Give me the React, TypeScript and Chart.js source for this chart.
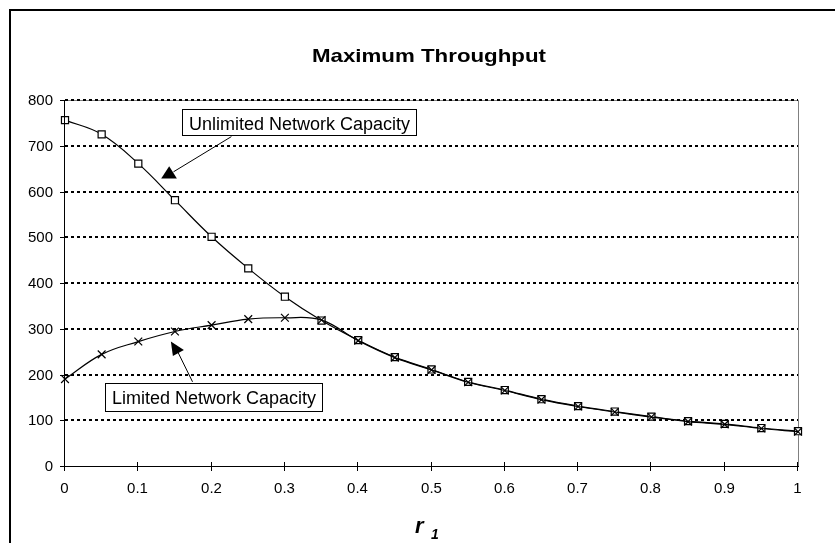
import { useEffect, useRef } from "react";
import { Chart, registerables } from "chart.js";

Chart.register(...registerables);

// ---- data ----
const rValues = [0, 0.05, 0.1, 0.15, 0.2, 0.25, 0.3, 0.35, 0.4, 0.45, 0.5, 0.55, 0.6, 0.65, 0.7, 0.75, 0.8, 0.85, 0.9, 0.95, 1];
const unlimitedThroughput = [756, 725, 661, 581, 501, 432, 370, 318, 275, 238, 211, 184, 166, 146, 131, 119, 108, 98, 92, 83, 76];
const limitedThroughput = [190, 244, 272, 294, 308, 321, 324, 319, 274, 237, 210, 183, 165, 145, 130, 118, 107, 97, 91, 82, 75];
const yTickValues = [0, 100, 200, 300, 400, 500, 600, 700, 800];
const yTickLabels = ["0", "100", "200", "300", "400", "500", "600", "700", "800"];
const xTickValues = [0, 0.1, 0.2, 0.3, 0.4, 0.5, 0.6, 0.7, 0.8, 0.9, 1];
const xTickLabels = ["0", "0.1", "0.2", "0.3", "0.4", "0.5", "0.6", "0.7", "0.8", "0.9", "1"];
const titleText = "Maximum Throughput";
const xAxisTitle = "r";
const xAxisSubscript = "1";
const unlimitedLabel = "Unlimited Network Capacity";
const limitedLabel = "Limited Network Capacity";

// ---- annotation placement (in data units) ----
const annotations = [
  {
    text: unlimitedLabel,
    boxLeft: 0.159, boxTop: 780, boxHeight: 26,
    arrowFrom: { r: 0.227, v: 720 },
    arrowTo: { r: 0.148, v: 643 },
    head: [[-4.3, -5.7], [-12.3, 6.6], [3.4, 6.6]],
  },
  {
    text: limitedLabel,
    boxLeft: 0.0546, boxTop: 182, boxHeight: 28,
    arrowFrom: { r: 0.174, v: 184 },
    arrowTo: { r: 0.154, v: 249 },
    head: [[-7, -10.5], [-5, 4], [6, -2]],
  },
];

const FONT = '"Liberation Sans", Arial, Helvetica, sans-serif';

const decorPlugin = {
  id: "decor",
  beforeDraw(chart: any) {
    const { ctx, chartArea: a, scales } = chart;
    const y = scales.y;
    ctx.save();
    ctx.fillStyle = "#ffffff";
    ctx.fillRect(0, 0, chart.width, chart.height);
    // outer frame
    ctx.strokeStyle = "#000";
    ctx.lineWidth = 2;
    ctx.strokeRect(10, 10, chart.width + 20, chart.height + 20);
    // plot area border (top/right), grey
    ctx.strokeStyle = "#808080";
    ctx.lineWidth = 1;
    ctx.beginPath();
    ctx.moveTo(a.left, a.top + 0.5);
    ctx.lineTo(a.right + 0.5, a.top + 0.5);
    ctx.lineTo(a.right + 0.5, a.bottom);
    ctx.stroke();
    // dotted grid
    ctx.strokeStyle = "#000";
    ctx.lineWidth = 2;
    ctx.setLineDash([3, 3]);
    for (const t of yTickValues) {
      if (t === 0) continue;
      const py = Math.round(y.getPixelForValue(t));
      ctx.beginPath();
      ctx.moveTo(a.left, py);
      ctx.lineTo(a.right, py);
      ctx.stroke();
    }
    ctx.restore();
  },
  afterDatasetsDraw(chart: any) {
    const { ctx, chartArea: a, scales } = chart;
    const x = scales.x;
    const y = scales.y;
    ctx.save();
    ctx.strokeStyle = "#000";
    ctx.fillStyle = "#000";
    ctx.lineWidth = 1;
    ctx.setLineDash([]);
    // axes
    ctx.beginPath();
    ctx.moveTo(a.left - 0.5, a.top);
    ctx.lineTo(a.left - 0.5, a.bottom + 0.5);
    ctx.lineTo(a.right + 1, a.bottom + 0.5);
    ctx.stroke();
    // y ticks + labels
    ctx.font = `15px ${FONT}`;
    ctx.textAlign = "right";
    ctx.textBaseline = "middle";
    yTickValues.forEach((t, i) => {
      const py = Math.round(y.getPixelForValue(t)) + 0.5;
      ctx.beginPath();
      ctx.moveTo(a.left - 5, py);
      ctx.lineTo(a.left, py);
      ctx.stroke();
      ctx.fillText(yTickLabels[i], a.left - 12, py);
    });
    // x ticks + labels
    ctx.textAlign = "center";
    xTickValues.forEach((t, i) => {
      const px = Math.round(x.getPixelForValue(t)) - 0.5;
      ctx.beginPath();
      ctx.moveTo(px, a.bottom - 4);
      ctx.lineTo(px, a.bottom + 5);
      ctx.stroke();
      ctx.fillText(xTickLabels[i], px, a.bottom + 23);
    });
    // title (horizontally stretched like the original)
    ctx.font = `bold 19px ${FONT}`;
    ctx.textBaseline = "alphabetic";
    const tw = ctx.measureText(titleText).width;
    const sx = 234 / tw;
    ctx.save();
    ctx.translate(429, 62);
    ctx.scale(sx, 1);
    ctx.textAlign = "center";
    ctx.fillText(titleText, 0, 0);
    ctx.restore();
    // axis title r1
    ctx.textAlign = "left";
    ctx.font = `italic bold 22px ${FONT}`;
    ctx.fillText(xAxisTitle, 415, 533);
    ctx.font = `italic bold 14px ${FONT}`;
    ctx.fillText(xAxisSubscript, 431, 539);
    // annotations
    ctx.font = `18px ${FONT}`;
    for (const an of annotations) {
      const from = { x: x.getPixelForValue(an.arrowFrom.r), y: y.getPixelForValue(an.arrowFrom.v) };
      const to = { x: x.getPixelForValue(an.arrowTo.r), y: y.getPixelForValue(an.arrowTo.v) };
      ctx.lineWidth = 1;
      ctx.beginPath();
      ctx.moveTo(from.x, from.y);
      ctx.lineTo(to.x, to.y);
      ctx.stroke();
      ctx.beginPath();
      an.head.forEach(([dx, dy], k) => {
        if (k === 0) ctx.moveTo(to.x + dx, to.y + dy);
        else ctx.lineTo(to.x + dx, to.y + dy);
      });
      ctx.closePath();
      ctx.fill();
      const bx = Math.round(x.getPixelForValue(an.boxLeft)) + 0.5;
      const by = Math.round(y.getPixelForValue(an.boxTop)) + 0.5;
      const w = ctx.measureText(an.text).width;
      const bw = Math.round(w + 13);
      ctx.fillStyle = "#fff";
      ctx.fillRect(bx, by, bw, an.boxHeight);
      ctx.strokeRect(bx, by, bw, an.boxHeight);
      ctx.fillStyle = "#000";
      ctx.textBaseline = "alphabetic";
      ctx.fillText(an.text, bx + 6.5, by + 20);
    }
    ctx.restore();
  },
};

export default function App() {
  const canvasRef = useRef<HTMLCanvasElement | null>(null);

  useEffect(() => {
    const canvas = canvasRef.current;
    if (!canvas) return;
    const chart = new Chart(canvas, {
      type: "line",
      data: {
        datasets: [
          {
            label: limitedLabel,
            data: rValues.map((r, i) => ({ x: r, y: limitedThroughput[i] })),
            borderColor: "#000",
            borderWidth: 1.2,
            backgroundColor: "#000",
            pointStyle: "crossRot",
            pointRadius: 5.5,
            pointBorderWidth: 1.2,
            pointBorderColor: "#000",
            tension: 0.4,
            clip: false,
          },
          {
            label: unlimitedLabel,
            data: rValues.map((r, i) => ({ x: r, y: unlimitedThroughput[i] })),
            borderColor: "#000",
            borderWidth: 1.2,
            pointStyle: "rect",
            pointRadius: 5,
            pointBackgroundColor: "#fff",
            pointBorderColor: "#000",
            pointBorderWidth: 1.2,
            tension: 0.4,
            clip: false,
          },
        ],
      },
      options: {
        responsive: false,
        animation: false,
        devicePixelRatio: 1,
        layout: { padding: { left: 65, top: 100, right: 37, bottom: 77 } },
        plugins: { legend: { display: false }, title: { display: false }, tooltip: { enabled: false } },
        events: [],
        scales: {
          x: { type: "linear", min: 0, max: 1, display: false },
          y: { type: "linear", min: 0, max: 800, display: false },
        },
      },
      plugins: [decorPlugin],
    });
    return () => chart.destroy();
  }, []);

  return (
    <div style={{ position: "absolute", left: 0, top: 0, width: 835, height: 543, overflow: "hidden" }}>
      <canvas ref={canvasRef} width={835} height={543} style={{ display: "block" }} />
    </div>
  );
}
